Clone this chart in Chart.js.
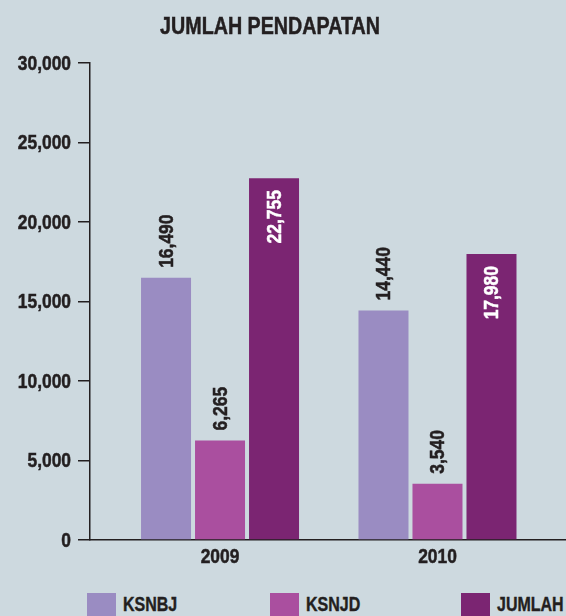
<!DOCTYPE html>
<html>
<head>
<meta charset="utf-8">
<title>Jumlah Pendapatan</title>
<script src="https://cdn.jsdelivr.net/npm/chart.js@4/dist/chart.umd.min.js"></script>
<style>
  html, body {
    margin: 0;
    padding: 0;
    width: 566px;
    height: 616px;
    overflow: hidden;
    background: #cdd9df;
  }
  #wrap {
    position: absolute;
    left: 0;
    top: 0;
    width: 566px;
    height: 575px;
  }
  #legend {
    position: absolute;
    left: 87px;
    top: 593px;
    font-family: "Liberation Sans", Arial, sans-serif;
    font-weight: bold;
    font-size: 20px;
    color: #231f20;
  }
  #legend .item {
    display: flex;
    align-items: flex-start;
  }
  #legend .box {
    width: 29px;
    height: 29px;
    margin-right: 7px;
  }
  #legend .txt {
    line-height: 22px;
    transform: scaleX(0.8);
    transform-origin: left center;
    -webkit-text-stroke: 0.4px #231f20;
  }
</style>
</head>
<body>
<div id="wrap"><canvas id="pendapatan"></canvas></div>
<div id="legend"></div>

<script>
const years = ['2009', '2010'];
const ksnbj = [16490, 14440];
const ksnjd = [6265, 3540];
const jumlah = [22755, 17980];
const seriesNames = ['KSNBJ', 'KSNJD', 'JUMLAH'];
const yTicks = [0, 5000, 10000, 15000, 20000, 25000, 30000];

const FONT = '"Liberation Sans", Arial, sans-serif';
const INK = '#231f20';
const colors = ['#9a8cc2', '#aa4f9f', '#7b2572'];
const labelInside = [false, false, true];
const legendLefts = [87, 270, 461];

const fmt = v => v.toLocaleString('en-US');

function toPoints(values) {
  return values.map((v, i) => ({ x: i, y: v }));
}

// the type is a heavy condensed face, so squeeze Liberation Sans and thicken it a bit
function narrowText(ctx, text, x, y, size, align, color, squeeze) {
  ctx.save();
  ctx.translate(x, y);
  ctx.scale(squeeze || 0.87, 1);
  ctx.font = 'bold ' + size + 'px ' + FONT;
  ctx.fillStyle = color;
  ctx.strokeStyle = color;
  ctx.lineWidth = 0.5;
  ctx.textAlign = align;
  ctx.textBaseline = 'middle';
  ctx.fillText(text, 0, 0);
  ctx.strokeText(text, 0, 0);
  ctx.restore();
}

// title and axis labels
const textLayer = {
  id: 'textLayer',
  afterDraw(chart) {
    const ctx = chart.ctx;
    narrowText(ctx, 'JUMLAH PENDAPATAN', 270, 27, 24, 'center', INK, 0.82);
    const y = chart.scales.y;
    y.ticks.forEach(t => {
      narrowText(ctx, fmt(t.value), 71, y.getPixelForValue(t.value) + 1, 20, 'right', INK);
    });
    const x = chart.scales.x;
    x.ticks.forEach(t => {
      narrowText(ctx, years[t.value], x.getPixelForValue(t.value), 557, 20, 'center', INK);
    });
  }
};

// rotated value labels: above the bar, or inside near the top in white
const barValues = {
  id: 'barValues',
  afterDatasetsDraw(chart) {
    const ctx = chart.ctx;
    chart.data.datasets.forEach((ds, i) => {
      const meta = chart.getDatasetMeta(i);
      meta.data.forEach((bar, j) => {
        const inside = labelInside[i];
        ctx.save();
        ctx.translate(bar.x, bar.y);
        ctx.rotate(-Math.PI / 2);
        narrowText(ctx, fmt(ds.data[j].y), inside ? -12 : 10, 1, 20,
          inside ? 'right' : 'left', inside ? '#ffffff' : INK);
        ctx.restore();
      });
    });
  }
};

new Chart('pendapatan', {
  type: 'bar',
  data: {
    datasets: [ksnbj, ksnjd, jumlah].map((vals, i) => ({
      label: seriesNames[i],
      data: toPoints(vals),
      backgroundColor: colors[i],
      borderWidth: 0,
      barPercentage: 0.926,
      categoryPercentage: 0.745
    }))
  },
  options: {
    responsive: true,
    maintainAspectRatio: false,
    animation: false,
    layout: { padding: { left: 0, right: 0, top: 63, bottom: 0 } },
    plugins: {
      legend: { display: false },
      tooltip: { enabled: false },
      title: { display: false }
    },
    scales: {
      x: {
        type: 'linear',
        offset: false,
        min: -0.598,
        max: 1.591,
        afterBuildTicks: s => { s.ticks = years.map((_, i) => ({ value: i })); },
        afterFit: s => { s.height = 35; },
        ticks: { display: false },
        grid: { display: false, offset: false },
        border: { display: true, color: INK, width: 1.5 }
      },
      y: {
        min: 0,
        max: 30000,
        afterBuildTicks: s => { s.ticks = yTicks.map(v => ({ value: v })); },
        afterFit: s => { s.width = 90; },
        ticks: { display: false },
        grid: {
          drawOnChartArea: false,
          drawTicks: true,
          tickLength: 12,
          color: INK,
          lineWidth: 1.5
        },
        border: { display: true, color: INK, width: 1.5 }
      }
    }
  },
  plugins: [barValues, textLayer]
});

// legend row under the chart
const legend = document.getElementById('legend');
seriesNames.forEach((name, i) => {
  const item = document.createElement('div');
  item.className = 'item';
  item.style.position = 'absolute';
  item.style.left = (legendLefts[i] - legendLefts[0]) + 'px';
  item.innerHTML = '<div class="box" style="background:' + colors[i] + '"></div><div class="txt">' + name + '</div>';
  legend.appendChild(item);
});
</script>
</body>
</html>
